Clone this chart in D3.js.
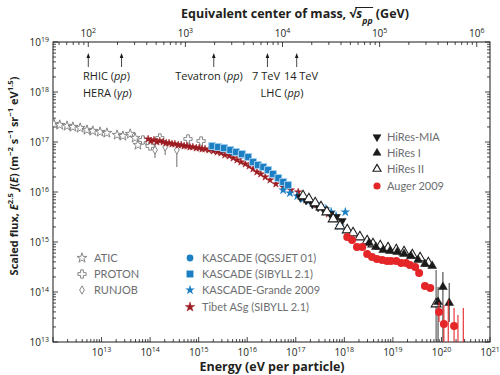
<!DOCTYPE html>
<html>
<head>
<meta charset="utf-8">
<script src="https://cdn.jsdelivr.net/npm/d3@7"></script>
<style>
  body { margin: 0; background: #fff; }
  text { font-family: "Open Sans", sans-serif; }
</style>
</head>
<body>
<svg id="chart" width="500" height="375"></svg>
<script>
// values: log10(E / eV) and log10(E^2.5 J(E))
const aticLogE = [12.02, 12.14, 12.29, 12.41, 12.56, 12.70, 12.82, 12.97, 13.11, 13.32, 13.44, 13.59, 13.69, 13.75, 13.87];
const aticLogF = [17.36, 17.34, 17.32, 17.30, 17.28, 17.24, 17.22, 17.20, 17.18, 17.14, 17.12, 17.16, 17.08, 16.94, 17.02];

const protonLogE = [13.85, 14.00, 14.20, 14.78, 15.05];
const protonLogF = [17.04, 16.92, 17.08, 17.06, 17.02];

const runjobLogE = [14.10, 14.31, 14.55];
const runjobLogF = [16.84, 16.90, 16.84];
const runjobLo = [16.68, 16.74, 16.50];
const runjobHi = [16.98, 17.04, 16.98];

const tibetLogE = [13.96, 14.02, 14.08, 14.14, 14.20, 14.27, 14.33, 14.39, 14.45, 14.51, 14.58, 14.64, 14.70, 14.76, 14.82,
  14.88, 14.95, 15.01, 15.07, 15.13, 15.21, 15.30, 15.38, 15.46, 15.54, 15.63, 15.71, 15.79, 15.87, 15.96,
  16.04, 16.12, 16.20, 16.28, 16.37, 16.47, 16.59, 16.74, 16.90, 17.05, 17.21, 17.42, 17.67];
const tibetLogF = [17.06, 17.02, 17.04, 17.00, 17.02, 17.00, 16.98, 16.98, 16.96, 16.96, 16.94, 16.94, 16.92, 16.92, 16.90,
  16.90, 16.88, 16.88, 16.86, 16.86, 16.84, 16.82, 16.80, 16.78, 16.74, 16.72, 16.68, 16.64, 16.60, 16.56,
  16.52, 16.46, 16.40, 16.36, 16.30, 16.24, 16.16, 16.10, 16.04, 16.00, 15.84, 15.74, 15.56];

const kasQgsLogE = [15.30, 15.50, 15.70, 15.90];
const kasQgsLogF = [16.90, 16.86, 16.80, 16.74];

const kasSibLogE = [15.28, 15.40, 15.52, 15.65, 15.77, 15.89, 16.02, 16.12, 16.22, 16.33, 16.43, 16.53, 16.64, 16.74, 16.84];
const kasSibLogF = [16.92, 16.90, 16.88, 16.84, 16.80, 16.76, 16.70, 16.60, 16.54, 16.50, 16.44, 16.36, 16.28, 16.20, 16.14];

const grandeLogE = [16.74, 16.88, 17.03, 17.15, 17.27, 17.40, 17.50, 17.62, 17.73, 17.83, 17.91, 18.02];
const grandeLogF = [16.04, 15.98, 15.92, 15.86, 15.82, 15.76, 15.72, 15.66, 15.60, 15.52, 15.32, 15.60];

const miaLogE = [17.09, 17.21, 17.34, 17.46, 17.58, 17.71, 17.83, 17.95];
const miaLogF = [15.90, 15.84, 15.76, 15.70, 15.64, 15.56, 15.50, 15.42];

const hires1LogE = [18.51, 18.65, 18.80, 18.94, 19.09, 19.23, 19.37, 19.52, 19.66, 19.81, 19.93, 20.03, 20.16];
const hires1LogF = [14.98, 14.90, 14.84, 14.82, 14.80, 14.76, 14.72, 14.64, 14.56, 14.52, 13.80, 14.10, 13.78];
const hires1Lo = [null, null, null, null, null, null, null, null, null, null, 12.5, 12.5, 13.40];
const hires1Hi = [null, null, null, null, null, null, null, null, null, null, 14.10, 14.40, 14.18];

const hires2LogE = [17.15, 17.27, 17.40, 17.52, 17.64, 17.77, 17.91, 18.06, 18.18, 18.32, 18.47, 18.59, 18.74, 18.90, 19.07,
  19.23, 19.40, 19.56, 19.73, 19.89];
const hires2LogF = [15.92, 15.86, 15.78, 15.70, 15.60, 15.46, 15.32, 15.24, 15.18, 15.10, 15.02, 14.96, 14.92, 14.88, 14.84,
  14.80, 14.74, 14.68, 14.58, 13.76];
const hires2Lo = [null, null, null, null, null, null, null, null, null, null, null, null, null, null, null, null, null, null, null, 12.5];
const hires2Hi = [null, null, null, null, null, null, null, null, null, null, null, null, null, null, null, null, null, null, null, 14.44];

const augerLogE = [18.06, 18.16, 18.26, 18.37, 18.47, 18.57, 18.67, 18.78, 18.88, 18.96, 19.07, 19.17, 19.27, 19.35, 19.46,
  19.54, 19.66, 19.77, 19.95, 20.05, 20.26];
const augerLogF = [15.10, 15.04, 14.90, 14.90, 14.76, 14.70, 14.66, 14.64, 14.62, 14.62, 14.62, 14.58, 14.58, 14.54, 14.50,
  14.38, 14.12, 14.08, 13.60, 13.36, 13.32];
const augerLo = [null, null, null, null, null, null, null, null, null, null, null, null, null, null, null, null, null, null, 13.40, 12.5, 12.5];
const augerHi = [null, null, null, null, null, null, null, null, null, null, null, null, null, null, null, null, null, null, 13.80, 13.74, 13.68];
// Auger bins whose point falls below the frame: only the upper error is visible
const augerLimLogE = [20.14, 20.34, 20.45];
const augerLimHi = [13.84, 13.54, 13.68];

// accelerators, equivalent sqrt(s) in GeV
const accelSqrtS = [100, 220, 1960, 7000, 14000];

const xTickExp = [13, 14, 15, 16, 17, 18, 19, 20, 21];
const yTickExp = [13, 14, 15, 16, 17, 18, 19];
const topTickExp = [2, 3, 4, 5, 6];

const red = '#e52629', darkRed = '#9c1c22', blue = '#1c7fc3', gray = '#7a7a7a', black = '#1a1a1a';

const svg = d3.select('#chart');
const L = 53, R = 490, T = 42, B = 342;

const x = d3.scaleLog().domain([1e12, 1e21]).range([L, R]);
const y = d3.scaleLog().domain([1e13, 1e19]).range([B, T]);
const mp = 0.938;
const sqrtS = e => Math.sqrt(2 * mp * e / 1e9);
const xTop = d3.scaleLog().domain([sqrtS(1e12), sqrtS(1e21)]).range([L, R]);
const eFromS = s => s * s / (2 * mp) * 1e9;

function rich(t, parts) {
  parts.forEach(([s, k]) => {
    const ts = t.append('tspan').text(s);
    if (!k) return;
    if (k.includes('i')) ts.attr('font-style', 'italic');
    if (k.includes('^')) ts.attr('baseline-shift', 'super').attr('font-size', '70%');
    if (k.includes('_')) ts.attr('baseline-shift', 'sub').attr('font-size', '70%');
  });
  return t;
}

function minorTicks(lo, hi) {
  const out = [];
  for (let n = Math.floor(Math.log10(lo)); n <= Math.ceil(Math.log10(hi)); n++) {
    for (let k = 1; k < 10; k++) {
      const v = k * Math.pow(10, n);
      if (v >= lo * 0.999 && v <= hi * 1.001) out.push({ v, major: k === 1 });
    }
  }
  return out;
}

// ticks, all pointing inward
const tickG = svg.append('g').attr('stroke', black).attr('stroke-width', 0.8);
minorTicks(1e12, 1e21).forEach(t => {
  const px = x(t.v), len = t.major ? 5 : 3;
  tickG.append('line').attr('x1', px).attr('x2', px).attr('y1', B).attr('y2', B - len);
});
minorTicks(1e13, 1e19).forEach(t => {
  const py = y(t.v), len = t.major ? 5 : 3;
  tickG.append('line').attr('x1', L).attr('x2', L + len).attr('y1', py).attr('y2', py);
  tickG.append('line').attr('x1', R).attr('x2', R - len).attr('y1', py).attr('y2', py);
});
minorTicks(xTop.domain()[0], xTop.domain()[1]).forEach(t => {
  const px = xTop(t.v), len = t.major ? 5 : 3;
  tickG.append('line').attr('x1', px).attr('x2', px).attr('y1', T).attr('y2', T + len);
});

svg.append('rect').attr('x', L).attr('y', T).attr('width', R - L).attr('height', B - T)
  .attr('fill', 'none').attr('stroke', black).attr('stroke-width', 1);

// tick labels
const lab = svg.append('g').attr('font-size', 10).attr('fill', '#231f20');
xTickExp.forEach(e => {
  rich(lab.append('text').attr('x', x(Math.pow(10, e))).attr('y', 356).attr('text-anchor', 'middle'),
    [['10'], [String(e), '^']]);
});
yTickExp.forEach(e => {
  rich(lab.append('text').attr('x', 49).attr('y', y(Math.pow(10, e)) + 4).attr('text-anchor', 'end'),
    [['10'], [String(e), '^']]);
});
topTickExp.forEach(e => {
  rich(lab.append('text').attr('x', xTop(Math.pow(10, e))).attr('y', 37).attr('text-anchor', 'middle'),
    [['10'], [String(e), '^']]);
});

// axis titles
const ttl = svg.append('g').attr('font-size', 12.5).attr('font-weight', 'bold').attr('fill', '#231f20');
const topTitle = rich(ttl.append('text').attr('x', 295).attr('y', 18).attr('text-anchor', 'middle'),
  [['Equivalent center of mass, √'], ['s', 'i'], ['pp', 'i_'], [' (GeV)']]);
// radical bar over s_pp
{
  const spans = topTitle.selectAll('tspan').nodes();
  const n = spans[1], tb = spans[2];
  const a = n.getStartPositionOfChar(0).x, b = tb.getEndPositionOfChar(1).x;
  ttl.append('line').attr('x1', a - 1).attr('x2', b + 0.5).attr('y1', 7.5).attr('y2', 7.5)
    .attr('stroke', '#231f20').attr('stroke-width', 1);
}
rich(ttl.append('text').attr('x', 272).attr('y', 371).attr('text-anchor', 'middle'),
  [['Energy (eV per particle)']]);
rich(ttl.append('text').attr('transform', 'translate(18,176) rotate(-90)').attr('text-anchor', 'middle')
  .attr('font-size', 11),
  [['Scaled flux, '], ['E', 'i'], ['2.5', '^'], [' '], ['J', 'i'], ['('], ['E', 'i'], [') (m'], ['−2', '^'],
   [' s'], ['−1', '^'], [' sr'], ['−1', '^'], [' eV'], ['1.5', '^'], [')']]);

// accelerator arrows
const ann = svg.append('g');
accelSqrtS.forEach(s => {
  const px = x(eFromS(s));
  ann.append('line').attr('x1', px).attr('x2', px).attr('y1', 56).attr('y2', 67)
    .attr('stroke', black).attr('stroke-width', 0.8);
  ann.append('path').attr('d', `M${px},53 L${px - 1.8},58 L${px + 1.8},58 Z`).attr('fill', black);
});
const annT = svg.append('g').attr('font-size', 11).attr('fill', '#231f20');
rich(annT.append('text').attr('x', 83).attr('y', 80), [['RHIC ('], ['pp', 'i'], [')']]);
rich(annT.append('text').attr('x', 83).attr('y', 97), [['HERA ('], ['γp', 'i'], [')']]);
rich(annT.append('text').attr('x', 209).attr('y', 80).attr('text-anchor', 'middle'), [['Tevatron ('], ['pp', 'i'], [')']]);
rich(annT.append('text').attr('x', 266).attr('y', 80).attr('text-anchor', 'middle'), [['7 TeV']]);
rich(annT.append('text').attr('x', 301).attr('y', 80).attr('text-anchor', 'middle'), [['14 TeV']]);
rich(annT.append('text').attr('x', 282).attr('y', 97).attr('text-anchor', 'middle'), [['LHC ('], ['pp', 'i'], [')']]);

// data
svg.append('clipPath').attr('id', 'plotclip').append('rect')
  .attr('x', L).attr('y', T).attr('width', R - L).attr('height', B - T);
const plot = svg.append('g').attr('clip-path', 'url(#plotclip)');

const sym = (type, size) => d3.symbol().type(type).size(size)();
const mk = {
  atic: { d: sym(d3.symbolStar, 30), fill: '#fff', stroke: gray, sw: 0.9 },
  proton: { d: sym(d3.symbolCross, 38), fill: '#fff', stroke: gray, sw: 0.9 },
  runjob: { d: sym(d3.symbolDiamond, 20), fill: '#fff', stroke: gray, sw: 0.9 },
  tibet: { d: sym(d3.symbolStar, 17), fill: darkRed, stroke: darkRed, sw: 0.5 },
  kasQgs: { d: sym(d3.symbolCircle, 36), fill: blue, stroke: 'none', sw: 0 },
  kasSib: { d: sym(d3.symbolSquare, 48), fill: blue, stroke: '#9fcdee', sw: 1 },
  grande: { d: sym(d3.symbolStar, 30), fill: blue, stroke: 'none', sw: 0 },
  mia: { d: sym(d3.symbolTriangle, 32), fill: black, stroke: black, sw: 0.5, rot: 180 },
  hires1: { d: sym(d3.symbolTriangle, 34), fill: black, stroke: black, sw: 0.5 },
  hires2: { d: sym(d3.symbolTriangle, 42), fill: '#fff', stroke: black, sw: 1.1 },
  auger: { d: sym(d3.symbolCircle, 50), fill: red, stroke: 'none', sw: 0 }
};

function series(logE, logF, m, lo, hi, errColor) {
  const g = plot.append('g');
  const pts = logE.map((e, i) => ({ E: Math.pow(10, e), F: Math.pow(10, logF[i]),
    lo: lo && lo[i] != null ? Math.pow(10, lo[i]) : null, hi: hi && hi[i] != null ? Math.pow(10, hi[i]) : null }));
  g.selectAll('line').data(pts.filter(p => p.lo != null)).join('line')
    .attr('x1', p => x(p.E)).attr('x2', p => x(p.E))
    .attr('y1', p => y(p.lo)).attr('y2', p => y(p.hi))
    .attr('stroke', errColor).attr('stroke-width', 1.1);
  g.selectAll('path').data(pts).join('path')
    .attr('d', m.d)
    .attr('transform', p => `translate(${x(p.E)},${y(p.F)})` + (m.rot ? ` rotate(${m.rot})` : ''))
    .attr('fill', m.fill).attr('stroke', m.stroke).attr('stroke-width', m.sw);
}

series(aticLogE, aticLogF, mk.atic);
series(runjobLogE, runjobLogF, mk.runjob, runjobLo, runjobHi, gray);
series(protonLogE, protonLogF, mk.proton);
series(tibetLogE, tibetLogF, mk.tibet);
series(kasQgsLogE, kasQgsLogF, mk.kasQgs);
series(kasSibLogE, kasSibLogF, mk.kasSib);
series(grandeLogE, grandeLogF, mk.grande);
series(miaLogE, miaLogF, mk.mia);
series(hires2LogE, hires2LogF, mk.hires2, hires2Lo, hires2Hi, '#555');
series(hires1LogE, hires1LogF, mk.hires1, hires1Lo, hires1Hi, '#444');
series(augerLogE, augerLogF, mk.auger, augerLo, augerHi, red);
plot.append('g').selectAll('line').data(augerLimLogE).join('line')
  .attr('x1', e => x(Math.pow(10, e))).attr('x2', e => x(Math.pow(10, e)))
  .attr('y1', (e, i) => y(Math.pow(10, augerLimHi[i]))).attr('y2', B)
  .attr('stroke', red).attr('stroke-width', 1.1);

// legends
const legend = svg.append('g').attr('font-size', 11).attr('fill', '#6d6e71')
  .style('font-family', 'Lato, sans-serif');
function legendRow(mx, tx, ty, m, label) {
  legend.append('path').attr('d', m.d)
    .attr('transform', `translate(${mx},${ty})` + (m.rot ? ` rotate(${m.rot})` : ''))
    .attr('fill', m.fill).attr('stroke', m.stroke === 'none' ? 'none' : m.stroke).attr('stroke-width', m.sw);
  legend.append('text').attr('x', tx).attr('y', ty + 4).style('font-family', 'Lato, sans-serif').text(label);
}
legendRow(82, 94, 258, mk.atic, 'ATIC');
legendRow(82, 94, 274, mk.proton, 'PROTON');
legendRow(82, 94, 290, mk.runjob, 'RUNJOB');
legendRow(190, 202, 258, mk.kasQgs, 'KASCADE (QGSJET 01)');
legendRow(190, 202, 274, { ...mk.kasSib, stroke: 'none' }, 'KASCADE (SIBYLL 2.1)');
legendRow(190, 202, 290, mk.grande, 'KASCADE-Grande 2009');
legendRow(190, 202, 307, { ...mk.tibet, d: sym(d3.symbolStar, 28) }, 'Tibet ASg (SIBYLL 2.1)');
legendRow(377, 387, 137, { ...mk.mia, d: sym(d3.symbolTriangle, 28) }, 'HiRes-MIA');
legendRow(377, 387, 153, { ...mk.hires1, d: sym(d3.symbolTriangle, 28) }, 'HiRes I');
legendRow(377, 387, 169, { ...mk.hires2, d: sym(d3.symbolTriangle, 28) }, 'HiRes II');
legendRow(377, 387, 186, { ...mk.auger, d: sym(d3.symbolCircle, 40) }, 'Auger 2009');
</script>
</body>
</html>
